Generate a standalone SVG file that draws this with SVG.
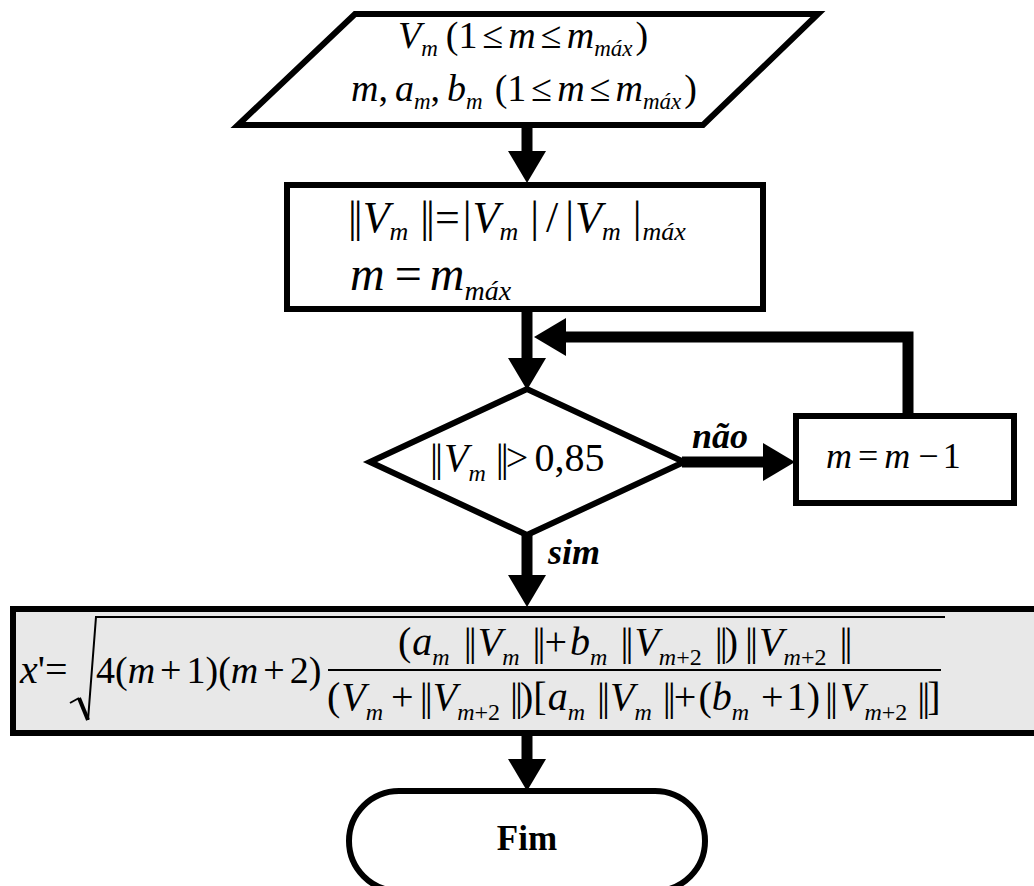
<svg xmlns="http://www.w3.org/2000/svg" width="1034" height="886" viewBox="0 0 1034 886">
<style>
.sh{fill:#fff;stroke:#000;stroke-width:6;stroke-linejoin:miter}
.cn{fill:none;stroke:#000;stroke-width:11;stroke-linejoin:miter;stroke-linecap:butt}
.t{font-family:"Liberation Serif","Times New Roman",serif;fill:#000}
.i{font-style:italic}
.d{letter-spacing:-3px}
.lb{font-family:"Liberation Serif","Times New Roman",serif;font-weight:bold;font-style:italic;font-size:36px;fill:#000}
</style>
<defs>
<marker id="ah" markerUnits="userSpaceOnUse" markerWidth="34" markerHeight="38" refX="0" refY="19" orient="auto" overflow="visible"><path d="M0,0 L32,19 L0,38 z" fill="#000"/></marker>
</defs>
<rect width="1034" height="886" fill="#fff"/>
<g id="connectors">
<path class="cn" d="M527,126 V151" marker-end="url(#ah)"/>
<path class="cn" d="M527,312 V358" marker-end="url(#ah)"/>
<path class="cn" d="M908,416 V337 H566" marker-end="url(#ah)"/>
<path class="cn" d="M682,462 H763" marker-end="url(#ah)"/>
<path class="cn" d="M527,534 V575" marker-end="url(#ah)"/>
<path class="cn" d="M527,734 V759" marker-end="url(#ah)"/>
<text class="lb" x="692" y="448">não</text>
<text class="lb" x="548" y="564">sim</text>
</g>
<g id="input">
<polygon class="sh" points="355,14 818,14 703,125 238,125"/>
<text class="t" font-size="38" x="398" y="48"><tspan class="i">V</tspan><tspan class="i" font-size="23" dy="8">m</tspan><tspan dx="8" dy="-8">(1</tspan><tspan dx="5">≤</tspan><tspan class="i" dx="5">m</tspan><tspan dx="5">≤</tspan><tspan class="i" dx="5">m</tspan><tspan class="i" font-size="23" dy="8">máx</tspan><tspan dx="3" dy="-8">)</tspan></text>
<text class="t" font-size="38" x="351" y="101"><tspan class="i">m</tspan><tspan>,</tspan><tspan class="i" dx="7">a</tspan><tspan class="i" font-size="23" dy="8">m</tspan><tspan dy="-8">,</tspan><tspan class="i" dx="7">b</tspan><tspan class="i" font-size="23" dy="8">m</tspan><tspan dx="12" dy="-8">(1</tspan><tspan dx="5">≤</tspan><tspan class="i" dx="5">m</tspan><tspan dx="5">≤</tspan><tspan class="i" dx="5">m</tspan><tspan class="i" font-size="23" dy="8">máx</tspan><tspan dx="3" dy="-8">)</tspan></text>
</g>
<g id="init">
<rect class="sh" x="287" y="185" width="476" height="124"/>
<text class="t" font-size="44" x="348" y="232"><tspan class="d">||</tspan><tspan class="i" dx="3">V</tspan><tspan class="i" font-size="26" dy="8">m</tspan><tspan class="d" dx="12" dy="-8">||</tspan><tspan dx="3">=</tspan><tspan dx="3">|</tspan><tspan class="i" dx="1">V</tspan><tspan class="i" font-size="26" dy="8">m</tspan><tspan dx="12" dy="-8">|</tspan><tspan dx="7">/</tspan><tspan dx="7">|</tspan><tspan class="i" dx="1">V</tspan><tspan class="i" font-size="26" dy="8">m</tspan><tspan dx="12" dy="-8">|</tspan><tspan class="i" font-size="26" dx="1" dy="8">máx</tspan></text>
<text class="t" font-size="48" x="350" y="290"><tspan class="i">m</tspan><tspan dx="10">=</tspan><tspan class="i" dx="8">m</tspan><tspan class="i" font-size="28" dy="10">máx</tspan></text>
</g>
<g id="decision">
<polygon class="sh" points="370,462 527,389 684,462 527,535"/>
<text class="t" font-size="40" x="430" y="471"><tspan class="d">||</tspan><tspan class="i" dx="4">V</tspan><tspan class="i" font-size="24" dy="10">m</tspan><tspan class="d" dx="10" dy="-10">||</tspan><tspan>&gt;</tspan><tspan dx="6">0,85</tspan></text>
</g>
<g id="decrement">
<rect class="sh" x="796" y="416" width="218" height="87"/>
<text class="t" font-size="36" x="826" y="468"><tspan class="i">m</tspan><tspan dx="6">=</tspan><tspan class="i" dx="6">m</tspan><tspan dx="8">−</tspan><tspan dx="4">1</tspan></text>
</g>
<g id="formula">
<rect x="13" y="609" width="1030" height="124" fill="#e8e8e8" stroke="#000" stroke-width="6"/>
<path d="M70,703 L79,698" fill="none" stroke="#000" stroke-width="2"/>
<path d="M79,698 L88,720" fill="none" stroke="#000" stroke-width="4"/>
<path d="M88,720 L96,617 H945" fill="none" stroke="#000" stroke-width="2"/>
<line x1="328" y1="670" x2="941" y2="670" stroke="#000" stroke-width="2"/>
<text class="t" font-size="40" x="20" y="683"><tspan class="i">x</tspan><tspan>'=</tspan></text>
<text class="t" font-size="38" x="96" y="683"><tspan>4(</tspan><tspan class="i">m</tspan><tspan dx="5">+</tspan><tspan dx="5">1)(</tspan><tspan class="i">m</tspan><tspan dx="5">+</tspan><tspan dx="5">2)</tspan></text>
<text class="t" font-size="40" x="398" y="655"><tspan>(</tspan><tspan class="i" dx="1">a</tspan><tspan class="i" font-size="24" dy="10">m</tspan><tspan class="d" dx="14" dy="-10">||</tspan><tspan class="i" dx="4">V</tspan><tspan class="i" font-size="24" dy="10">m</tspan><tspan class="d" dx="13" dy="-10">||</tspan><tspan dx="2">+</tspan><tspan class="i" dx="3">b</tspan><tspan class="i" font-size="24" dy="10">m</tspan><tspan class="d" dx="13" dy="-10">||</tspan><tspan class="i" dx="4">V</tspan><tspan class="i" font-size="24" dy="10">m</tspan><tspan font-size="24">+2</tspan><tspan class="d" dx="13" dy="-10">||</tspan><tspan>)</tspan><tspan class="d" dx="7">||</tspan><tspan class="i" dx="4">V</tspan><tspan class="i" font-size="24" dy="10">m</tspan><tspan font-size="24">+2</tspan><tspan class="d" dx="13" dy="-10">||</tspan></text>
<text class="t" font-size="40" x="327" y="710"><tspan>(</tspan><tspan class="i" dx="1">V</tspan><tspan class="i" font-size="24" dy="10">m</tspan><tspan dx="8" dy="-10">+</tspan><tspan class="d" dx="6">||</tspan><tspan class="i" dx="3">V</tspan><tspan class="i" font-size="24" dy="10">m</tspan><tspan font-size="24">+2</tspan><tspan class="d" dx="10" dy="-10">||</tspan><tspan>)[</tspan><tspan class="i" dx="1">a</tspan><tspan class="i" font-size="24" dy="10">m</tspan><tspan class="d" dx="12" dy="-10">||</tspan><tspan class="i" dx="3">V</tspan><tspan class="i" font-size="24" dy="10">m</tspan><tspan class="d" dx="11" dy="-10">||</tspan><tspan dx="1">+</tspan><tspan dx="2">(</tspan><tspan class="i">b</tspan><tspan class="i" font-size="24" dy="10">m</tspan><tspan dx="12" dy="-10">+</tspan><tspan dx="3">1)</tspan><tspan class="d" dx="5">||</tspan><tspan class="i" dx="5">V</tspan><tspan class="i" font-size="24" dy="10">m</tspan><tspan font-size="24">+2</tspan><tspan class="d" dx="10" dy="-10">||</tspan><tspan>]</tspan></text>
</g>
<g id="end">
<rect class="sh" x="349" y="791" width="356" height="100" rx="50" ry="50"/>
<text class="t" font-size="35" font-weight="bold" text-anchor="middle" x="527" y="850">Fim</text>
</g>
</svg>
